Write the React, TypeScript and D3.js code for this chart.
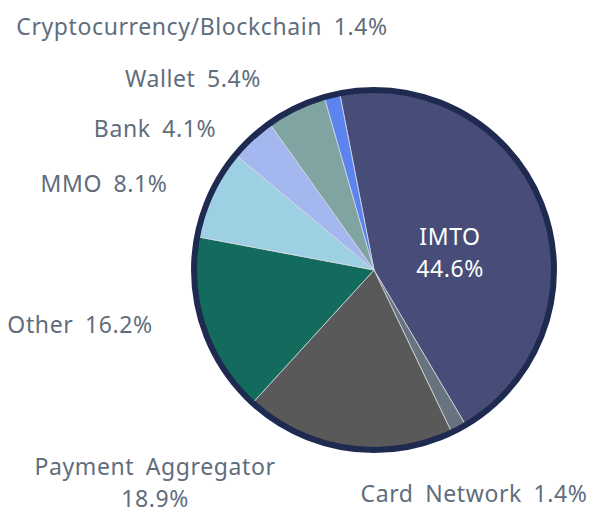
import { useEffect, useRef } from "react";
import * as d3 from "d3";

const categories = [
  "IMTO",
  "Card Network",
  "Payment Aggregator",
  "Other",
  "MMO",
  "Bank",
  "Wallet",
  "Cryptocurrency/Blockchain",
];
const shares = [44.6, 1.4, 18.9, 16.2, 8.1, 4.1, 5.4, 1.4];
const colors = [
  "#474d78",
  "#67737f",
  "#595959",
  "#136b5e",
  "#9dd0e2",
  "#a5b7ef",
  "#7fa4a2",
  "#5b84ee",
];

// label text lines and where Excel put them (relative to pie centre)
const labelLines = [
  ["IMTO", "44.6%"],
  ["Card Network 1.4%"],
  ["Payment Aggregator", "18.9%"],
  ["Other 16.2%"],
  ["MMO 8.1%"],
  ["Bank 4.1%"],
  ["Wallet 5.4%"],
  ["Cryptocurrency/Blockchain 1.4%"],
];
const labelOffsets = [
  [76, -25],
  [100, 232],
  [-219, 205],
  [-294, 63],
  [-270, -78],
  [-219, -133],
  [-181, -183],
  [-172, -235],
];

const W = 593;
const H = 514;

const App = () => {
  const ref = useRef<SVGSVGElement>(null);

  useEffect(() => {
    const svg = d3.select(ref.current);
    svg.selectAll("*").remove();

    const cx = 374;
    const cy = 270;
    const radius = 180;
    const start = (-11 * Math.PI) / 180; // first slice starts a bit left of 12 o'clock

    const g = svg.append("g").attr("transform", `translate(${cx},${cy})`);

    const pie = d3
      .pie<number>()
      .sort(null)
      .startAngle(start)
      .endAngle(start + 2 * Math.PI)
      .value((d) => d);
    const arc = d3.arc<d3.PieArcDatum<number>>().innerRadius(0).outerRadius(radius);

    g.selectAll("path")
      .data(pie(shares))
      .join("path")
      .attr("d", arc)
      .attr("fill", (d, i) => colors[i])
      .attr("stroke", "#d4d8e0")
      .attr("stroke-width", 0.8);

    g.append("circle")
      .attr("r", radius)
      .attr("fill", "none")
      .attr("stroke", "#1e2a50")
      .attr("stroke-width", 6);

    const labels = g
      .selectAll("text")
      .data(labelLines)
      .join("text")
      .attr("text-anchor", "middle")
      .attr("font-family", "'Noto Sans', sans-serif")
      .attr("font-size", 23)
      .attr("letter-spacing", 0.6)
      .attr("word-spacing", 5)
      .attr("fill", (d, i) => (i === 0 ? "#ffffff" : "#5f6d7d"))
      .attr("transform", (d, i) => `translate(${labelOffsets[i][0]},${labelOffsets[i][1]})`);

    labels
      .selectAll("tspan")
      .data((d) => d)
      .join("tspan")
      .attr("x", 0)
      .attr("dy", (d, i) => (i === 0 ? 0 : 31.5))
      .text((d) => d);
  }, []);

  return (
    <svg
      ref={ref}
      width={W}
      height={H}
      style={{ position: "absolute", left: 0, top: 0, background: "#fff" }}
    />
  );
};

export default App;
